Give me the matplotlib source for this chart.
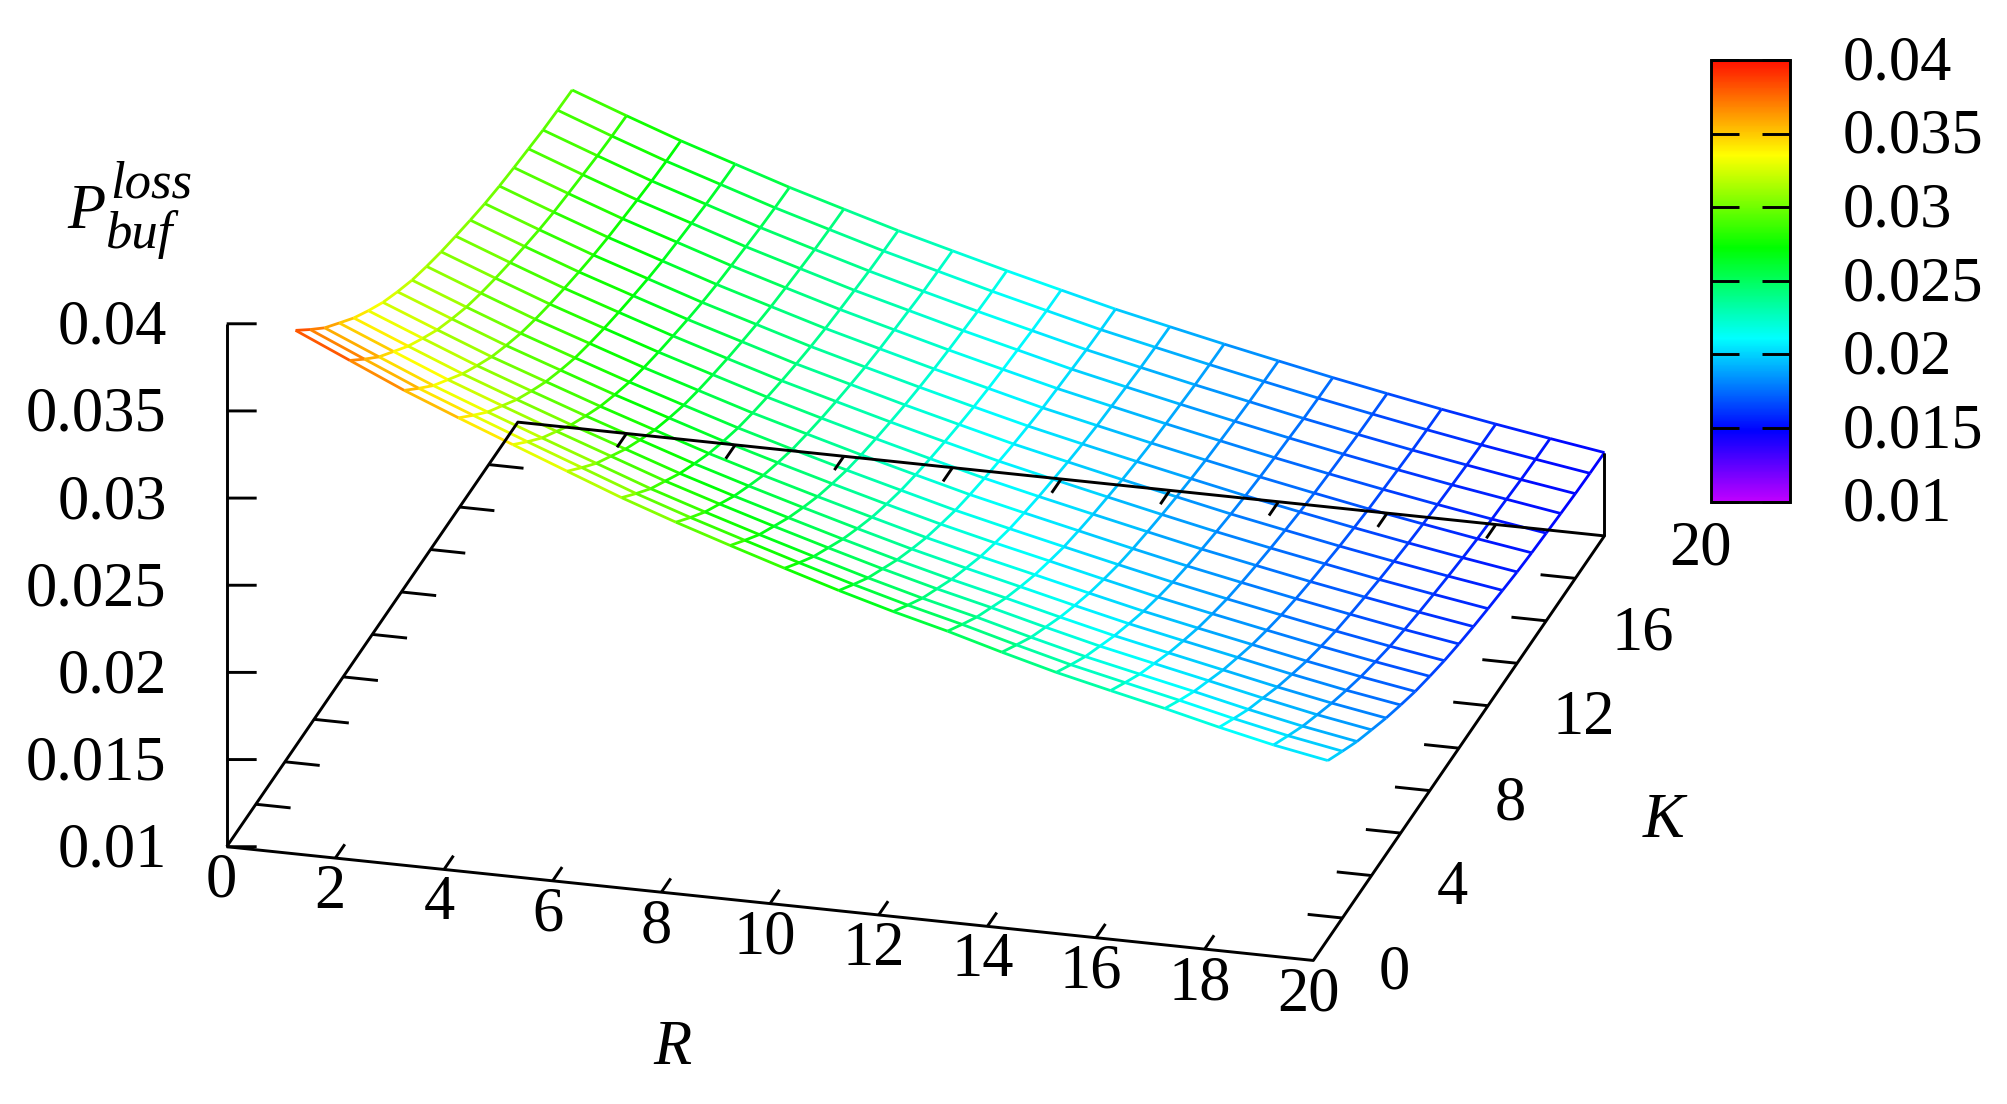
import numpy as np
import matplotlib
matplotlib.use('Agg')
import matplotlib.pyplot as plt
from matplotlib.colors import LinearSegmentedColormap, Normalize
from matplotlib.cm import ScalarMappable
from matplotlib.transforms import ScaledTranslation
from mpl_toolkits.mplot3d import proj3d
from mpl_toolkits.mplot3d.art3d import Line3DCollection

plt.rcParams['font.family'] = ['Liberation Serif', 'DejaVu Serif']

R_values = list(range(1, 21))
K_values = list(range(1, 21))
R_ticks = [0, 2, 4, 6, 8, 10, 12, 14, 16, 18, 20]
K_ticks = [0, 2, 4, 6, 8, 10, 12, 14, 16, 18, 20]
K_labelled = [0, 4, 8, 12, 16, 20]
z_ticks = [0.01, 0.015, 0.02, 0.025, 0.03, 0.035, 0.04]
z_labels = ['0.01', '0.015', '0.02', '0.025', '0.03', '0.035', '0.04']

# loss in units of 1e-5, one row per R, columns K = 1..20
loss_e5 = [
    [3873, 3756, 3644, 3550, 3457, 3377, 3303, 3242, 3187, 3144, 3106, 3074, 3044, 3017, 2996, 2980, 2966, 2952, 2944, 2938],
    [3733, 3619, 3510, 3419, 3328, 3251, 3178, 3119, 3065, 3023, 2987, 2955, 2926, 2900, 2879, 2864, 2850, 2837, 2828, 2823],
    [3594, 3484, 3378, 3290, 3202, 3127, 3056, 2999, 2947, 2906, 2871, 2840, 2812, 2787, 2767, 2752, 2738, 2725, 2717, 2712],
    [3469, 3362, 3259, 3173, 3087, 3014, 2946, 2890, 2839, 2800, 2765, 2735, 2708, 2684, 2664, 2650, 2637, 2624, 2616, 2611],
    [3348, 3243, 3143, 3059, 2975, 2904, 2837, 2782, 2733, 2694, 2661, 2632, 2605, 2581, 2562, 2548, 2535, 2523, 2515, 2510],
    [3228, 3127, 3030, 2949, 2868, 2799, 2734, 2681, 2633, 2596, 2564, 2535, 2510, 2487, 2468, 2454, 2442, 2430, 2423, 2418],
    [3109, 3011, 2917, 2839, 2761, 2695, 2632, 2581, 2535, 2499, 2468, 2440, 2415, 2393, 2375, 2362, 2350, 2339, 2332, 2327],
    [3001, 2906, 2816, 2740, 2664, 2600, 2539, 2490, 2445, 2411, 2380, 2354, 2330, 2308, 2291, 2278, 2267, 2255, 2249, 2244],
    [2900, 2808, 2719, 2645, 2572, 2509, 2450, 2402, 2358, 2324, 2295, 2269, 2245, 2225, 2208, 2195, 2184, 2173, 2166, 2162],
    [2802, 2712, 2626, 2554, 2482, 2421, 2364, 2317, 2275, 2242, 2213, 2188, 2165, 2145, 2129, 2116, 2106, 2095, 2088, 2084],
    [2707, 2620, 2536, 2466, 2396, 2336, 2280, 2235, 2193, 2161, 2133, 2109, 2086, 2067, 2050, 2039, 2028, 2018, 2011, 2007],
    [2619, 2534, 2452, 2384, 2316, 2259, 2204, 2160, 2120, 2089, 2061, 2038, 2016, 1997, 1981, 1970, 1959, 1949, 1943, 1939],
    [2539, 2456, 2376, 2309, 2242, 2185, 2132, 2089, 2049, 2019, 1992, 1969, 1947, 1929, 1913, 1902, 1892, 1882, 1876, 1872],
    [2451, 2371, 2293, 2229, 2165, 2110, 2059, 2017, 1979, 1949, 1924, 1901, 1881, 1863, 1848, 1837, 1827, 1818, 1812, 1808],
    [2368, 2290, 2215, 2153, 2091, 2038, 1988, 1947, 1911, 1882, 1857, 1835, 1815, 1798, 1784, 1773, 1764, 1754, 1749, 1745],
    [2296, 2220, 2147, 2086, 2025, 1973, 1924, 1884, 1848, 1820, 1796, 1774, 1755, 1738, 1724, 1713, 1704, 1695, 1690, 1686],
    [2226, 2151, 2080, 2020, 1960, 1910, 1862, 1823, 1788, 1760, 1736, 1716, 1696, 1680, 1666, 1656, 1647, 1638, 1633, 1629],
    [2151, 2079, 2010, 1953, 1895, 1846, 1800, 1763, 1729, 1703, 1680, 1659, 1641, 1625, 1612, 1602, 1593, 1585, 1579, 1576],
    [2082, 2013, 1946, 1890, 1835, 1787, 1743, 1707, 1674, 1648, 1626, 1607, 1589, 1573, 1560, 1551, 1543, 1534, 1529, 1526],
    [2025, 1957, 1891, 1836, 1782, 1735, 1691, 1656, 1624, 1598, 1576, 1557, 1540, 1524, 1512, 1503, 1494, 1486, 1481, 1478],
]
loss = np.array(loss_e5) * 1e-5

W, H = 2008, 1104
FS = 45
LW = 2.1

cmap = LinearSegmentedColormap.from_list('rainbow_pal', [
    (0.0, '#c000ff'), (0.16, '#0000ff'), (0.37, '#00ffff'),
    (0.575, '#00ff00'), (0.785, '#ffff00'), (1.0, '#ff1000')], N=512)
norm = Normalize(0.01, 0.04)

fig = plt.figure(figsize=(W / 100, H / 100), dpi=100)
ax = fig.add_axes([0, 0, 1, 1], projection='3d', proj_type='ortho', computed_zorder=False)
ax.set_axis_off()
ax.patch.set_alpha(0)
ax.view_init(elev=23, azim=-75)
ax.set_xlim(0, 20, view_margin=0)
ax.set_ylim(0, 20, view_margin=0)
ax.set_zlim(0.01, 0.04, view_margin=0)


def to_px(r, k, z):
    ax.apply_aspect()
    x, y, _ = proj3d.proj_transform(r, k, z, ax.get_proj())
    return ax.transData.transform((x, y))


# fit the box to where the floor sits in the reference
ax.set_box_aspect((1, 1, 0.505))
a = to_px(0, 0, 0.01)
b = to_px(20, 0, 0.01)
ax.set_box_aspect((1, 1, 0.505), zoom=1086.6 / (b[0] - a[0]))
a = to_px(0, 0, 0.01)
ax.set_position([(226.7 - a[0]) / W, (H - 846.7 - a[1]) / H, 1, 1])

# mesh, one colour for each piece of line
segs = []
seg_vals = []
for i, r in enumerate(R_values):
    for j, k in enumerate(K_values):
        if j + 1 < len(K_values):
            segs.append([(r, k, loss[i, j]), (r, K_values[j + 1], loss[i, j + 1])])
            seg_vals.append((loss[i, j] + loss[i, j + 1]) / 2)
        if i + 1 < len(R_values):
            segs.append([(r, k, loss[i, j]), (R_values[i + 1], k, loss[i + 1, j])])
            seg_vals.append((loss[i, j] + loss[i + 1, j]) / 2)
mesh = Line3DCollection(segs, colors=cmap(norm(seg_vals)), linewidths=2.0, zorder=1)
mesh.set_clip_on(False)
ax.add_collection3d(mesh)


def black(rs, ks, zs):
    ax.plot(rs, ks, zs, color='black', lw=LW, zorder=3, clip_on=False, solid_capstyle='butt')


z0 = z_ticks[0]
black([0, 20, 20, 0, 0], [0, 0, 20, 20, 0], [z0] * 5)
black([0, 0], [0, 0], [z0, z_ticks[-1]])
black([20, 20], [20, 20], [z0, loss[-1, -1]])

for r in R_ticks[1:-1]:
    black([r, r], [0, 0.65], [z0, z0])
    black([r, r], [20, 19.35], [z0, z0])
for k in K_ticks[1:-1]:
    black([0, 0.64], [k, k], [z0, z0])
    black([20, 19.36], [k, k], [z0, z0])
for z in z_ticks:
    black([0, 0.515], [0, 0.137], [z, z])


def tick_text(r, k, z, dx, dy, s, ha):
    x, y = to_px(r, k, z)
    fig.text((x + dx) / W, (y + dy) / H, s, ha=ha, va='center', fontsize=FS)


for r in R_ticks:
    tick_text(r, 0, z0, -5, -35, str(r), 'center')
for k in K_labelled:
    tick_text(20, k, z0, 65, -13.5, str(k), 'left')
for z, s in zip(z_ticks, z_labels):
    tick_text(0, 0, z, -60, -5, s, 'right')


def px_text(x, y, s, size=FS, **kw):
    fig.text(x / W, 1 - y / H, s, fontsize=size, style='italic', **kw)


px_text(672, 1049, 'R', ha='center', va='center')
px_text(1664, 822, 'K', ha='center', va='center')
px_text(67, 228, 'P', ha='left', va='baseline')
px_text(110, 197, 'loss', size=38, ha='left', va='baseline')
px_text(105, 248, 'buf', size=38, ha='left', va='baseline')

# colour box
cax = fig.add_axes([1711 / W, 1 - 501.7 / H, 79 / W, 441.7 / H])
cb = fig.colorbar(ScalarMappable(norm=norm, cmap=cmap), cax=cax, ticks=z_ticks)
cb.ax.set_yticklabels(z_labels)
cb.ax.tick_params(direction='in', left=True, right=True, length=20, width=LW, pad=38, labelsize=FS)
cb.outline.set_linewidth(LW)
for lab in cb.ax.get_yticklabels():
    lab.set_transform(lab.get_transform() + ScaledTranslation(0, 2 / 72, fig.dpi_scale_trans))

fig.savefig('out.png', dpi=100)
